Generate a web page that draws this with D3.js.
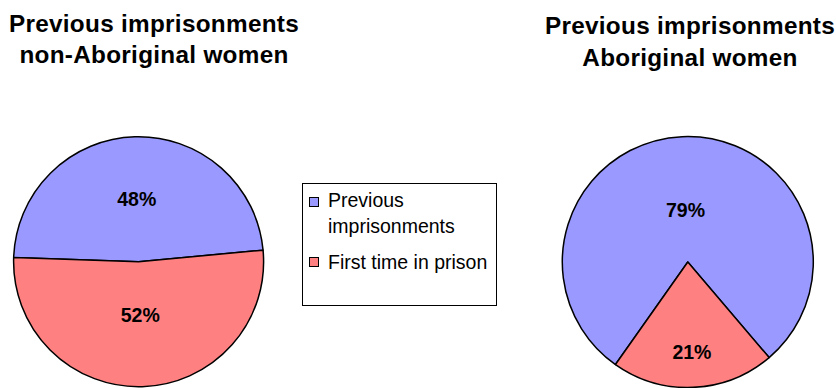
<!DOCTYPE html>
<html>
<head>
<meta charset="utf-8">
<script src="https://cdn.jsdelivr.net/npm/d3@7"></script>
<style>
  html, body { margin: 0; padding: 0; background: #fff; }
  svg { display: block; }
</style>
</head>
<body>
<svg id="chart" width="836" height="388"></svg>
<script>
// ---- data ----
const categories = ["Previous imprisonments", "First time in prison"];
const nonAboriginalValues = [48, 52];
const aboriginalValues = [79, 21];
const pieTitles = [
  ["Previous imprisonments", "non-Aboriginal women"],
  ["Previous imprisonments", "Aboriginal women"]
];
const legendLines = [["Previous", "imprisonments"], ["First time in prison"]];
const colors = ["#9999FF", "#FF8080"];

// ---- layout ----
const svg = d3.select("#chart");
const font = "'Liberation Sans', Arial, sans-serif";

const pies = [
  { values: nonAboriginalValues, cx: 138.6, cy: 261.7, r: 125, start: -88.1,
    titleX: 154, titleY: [32, 63], labelR: [0.50, 0.43] },
  { values: aboriginalValues, cx: 687.8, cy: 262, r: 125.5, start: -144.8,
    titleX: 690, titleY: [34, 66], labelR: [0.41, 0.72] }
];

pies.forEach((p, pi) => {
  const s = p.start * Math.PI / 180;
  const pie = d3.pie().sort(null).value(d => d).startAngle(s).endAngle(s + 2 * Math.PI);
  const arcs = pie(p.values);
  const arc = d3.arc().innerRadius(0).outerRadius(p.r);
  const g = svg.append("g").attr("transform", `translate(${p.cx},${p.cy})`);
  g.selectAll("path").data(arcs).join("path")
    .attr("d", arc)
    .attr("fill", (d, i) => colors[i])
    .attr("stroke", "#000")
    .attr("stroke-width", 1.5)
    .attr("stroke-linejoin", "round");
  g.selectAll("text").data(arcs).join("text")
    .attr("x", (d, i) => d3.arc().innerRadius(p.r * p.labelR[i] * 2).outerRadius(0).centroid(d)[0])
    .attr("y", (d, i) => d3.arc().innerRadius(p.r * p.labelR[i] * 2).outerRadius(0).centroid(d)[1])
    .attr("dy", "0.35em")
    .attr("text-anchor", "middle")
    .attr("font-family", font)
    .attr("font-weight", "bold")
    .attr("font-size", "19.5px")
    .attr("fill", "#000")
    .text(d => d.data + "%");

  pieTitles[pi].forEach((line, li) => {
    svg.append("text")
      .attr("x", p.titleX)
      .attr("y", p.titleY[li])
      .attr("text-anchor", "middle")
      .attr("font-family", font)
      .attr("font-weight", "bold")
      .attr("font-size", "24.3px")
      .attr("letter-spacing", "0.3px")
      .attr("fill", "#000")
      .text(line);
  });
});

// ---- legend ----
const lg = svg.append("g");
lg.append("rect")
  .attr("x", 302.5).attr("y", 183.5)
  .attr("width", 194).attr("height", 122)
  .attr("fill", "#fff").attr("stroke", "#000").attr("stroke-width", 1);

const legendItems = [
  { sy: 197.5, ty: [207, 233] },
  { sy: 257.5, ty: [269] }
];
legendItems.forEach((it, i) => {
  lg.append("rect")
    .attr("x", 309.5).attr("y", it.sy)
    .attr("width", 9).attr("height", 9)
    .attr("fill", colors[i]).attr("stroke", "#000").attr("stroke-width", 1);
  legendLines[i].forEach((t, j) => {
    lg.append("text")
      .attr("x", 328).attr("y", it.ty[j])
      .attr("font-family", font)
      .attr("font-size", "19.5px")
      .attr("fill", "#000")
      .text(t);
  });
});
</script>
</body>
</html>
